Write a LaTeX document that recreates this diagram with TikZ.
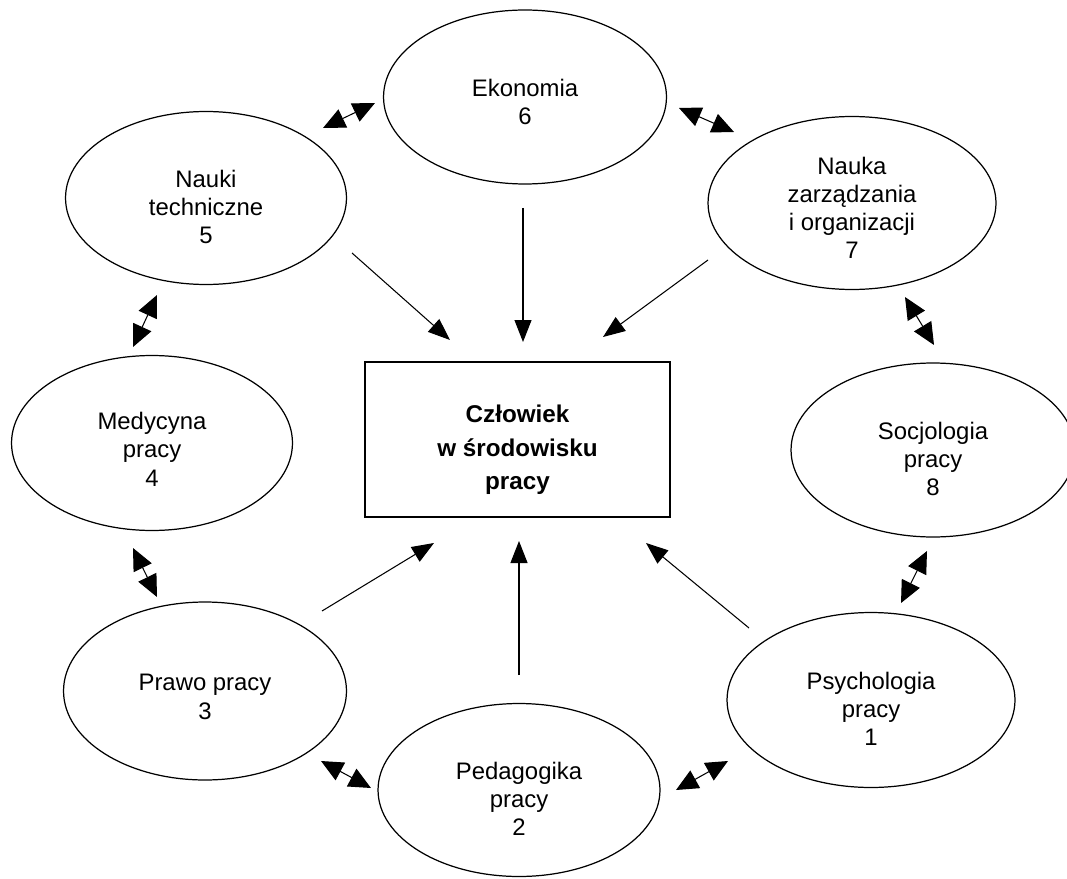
\documentclass[tikz,border=0pt]{standalone}
\usepackage{fontspec}
\setmainfont{Liberation Sans}
\usetikzlibrary{shapes.geometric, arrows.meta}

\newcommand{\gora}[1]{\rule{0pt}{#1}}

\tikzset{
  elipsa/.style={ellipse, draw, line width=0.7pt, inner sep=0pt, align=center,
    font=\fontsize{13.6pt}{16pt}\selectfont},
  dwustr/.style={line width=0.6pt, {Triangle[length=0.44cm, width=0.4cm]}-{Triangle[length=0.44cm, width=0.4cm]}},
  strz/.style={line width=0.6pt, -{Triangle[length=0.44cm, width=0.34cm]}}
}

\begin{document}
\begin{tikzpicture}[x=0.02cm, y=-0.02cm]
		\useasboundingbox (0,0) rectangle (1067,878);
		
		% srodek
		\node[draw, line width=0.8pt, minimum width=6.1cm, minimum height=3.1cm, align=center,
		  font=\fontsize{13.8pt}{19pt}\selectfont\bfseries] (czl) at (517.5,439.5) {\gora{22pt}Człowiek\\w środowisku\\pracy};
		
		% elipsy 1--8
		\node[elipsa, minimum width=5.76cm, minimum height=3.5cm] (psy) at (871,700) {\gora{20pt}Psychologia\\pracy\\1};
		\node[elipsa, minimum width=5.64cm, minimum height=3.46cm] (ped) at (519,790) {\gora{20pt}Pedagogika\\pracy\\2};
		\node[elipsa, minimum width=5.66cm, minimum height=3.56cm] (pra) at (205,691) {\gora{16pt}Prawo pracy\\3};
		\node[elipsa, minimum width=5.62cm, minimum height=3.5cm] (med) at (152,443) {\gora{17pt}Medycyna\\pracy\\4};
		\node[elipsa, minimum width=5.62cm, minimum height=3.46cm] (tec) at (206,198) {\gora{20pt}Nauki\\techniczne\\5};
		\node[elipsa, minimum width=5.66cm, minimum height=3.48cm] (eko) at (525,97) {\gora{16pt}Ekonomia\\6};
		\node[elipsa, minimum width=5.76cm, minimum height=3.46cm] (zar) at (852,203) {\gora{15pt}Nauka\\zarządzania\\i organizacji\\7};
		\node[elipsa, minimum width=5.68cm, minimum height=3.48cm] (soc) at (933,450) {\gora{20pt}Socjologia\\pracy\\8};
		
		% konce strzalek
		\coordinate (t1) at (323,128);  \coordinate (e1) at (375,103);
		\coordinate (e2) at (679,108);  \coordinate (z1) at (734,132);
		\coordinate (z2) at (905,297);  \coordinate (s1) at (934,345);
		\coordinate (s2) at (927,551);  \coordinate (p1) at (901,603);
		\coordinate (p2) at (728,761);  \coordinate (d1) at (676,790);
		\coordinate (d2) at (371,788);  \coordinate (r1) at (321,761);
		\coordinate (r2) at (157,597);  \coordinate (m1) at (133,548);
		\coordinate (m2) at (133,347);  \coordinate (t2) at (157,295);
		
		% strzalki miedzy elipsami
		\draw[dwustr] (t1)--(e1);
		\draw[dwustr] (e2)--(z1);
		\draw[dwustr] (z2)--(s1);
		\draw[dwustr] (s2)--(p1);
		\draw[dwustr] (p2)--(d1);
		\draw[dwustr] (d2)--(r1);
		\draw[dwustr] (r2)--(m1);
		\draw[dwustr] (m2)--(t2);
		
		% strzalki do srodka
		\coordinate (a5) at (352,253);  \coordinate (b5) at (450,340);
		\coordinate (a6) at (523,208);  \coordinate (b6) at (523,342);
		\coordinate (a7) at (708,260);  \coordinate (b7) at (603,337);
		\coordinate (a3) at (322,611);  \coordinate (b3) at (434,543);
		\coordinate (a2) at (519,675);  \coordinate (b2) at (519,541);
		\coordinate (a1) at (749,628);  \coordinate (b1) at (646,543);
		
		\draw[strz] (a5)--(b5);
		\draw[strz] (a6)--(b6);
		\draw[strz] (a7)--(b7);
		\draw[strz] (a3)--(b3);
		\draw[strz] (a2)--(b2);
		\draw[strz] (a1)--(b1);
\end{tikzpicture}
\end{document}
